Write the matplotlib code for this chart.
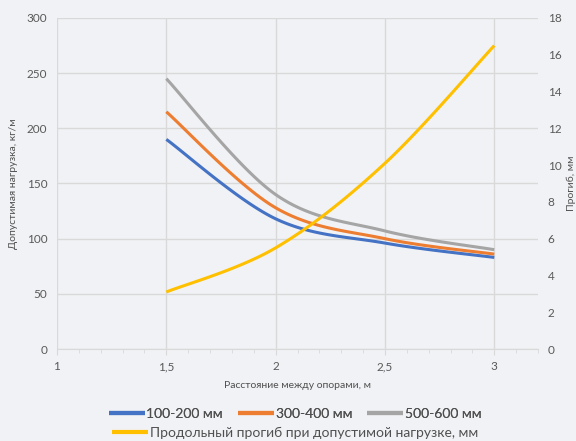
import numpy as np
import matplotlib
matplotlib.use("Agg")
import matplotlib.pyplot as plt
from matplotlib.ticker import MultipleLocator, FuncFormatter

plt.rcParams['font.family'] = ['Lato', 'DejaVu Sans']

span = [1.5, 2.0, 2.5, 3.0]
load_100_200 = [190, 118, 96, 83]
load_300_400 = [215, 128, 100, 86]
load_500_600 = [245, 140, 107, 90]
deflection = [3.1, 5.5, 10.1, 16.5]

labels = ["100-200 мм", "300-400 мм", "500-600 мм",
          "Продольный прогиб при допустимой нагрузке, мм"]
colors = ["#4472C4", "#ED7D31", "#A5A5A5", "#FFC000"]


def smooth(x, y, n=40):
    """Excel-style smoothed line (Catmull-Rom Bezier) through the given points."""
    p = np.column_stack([x, y]).astype(float)
    pts = np.vstack([p[0], p, p[-1]])
    out = []
    t = np.linspace(0, 1, n)[:, None]
    for i in range(1, len(pts) - 2):
        p0, p1, p2, p3 = pts[i - 1], pts[i], pts[i + 1], pts[i + 2]
        c1 = p1 + (p2 - p0) / 6
        c2 = p2 - (p3 - p1) / 6
        seg = ((1 - t) ** 3) * p1 + 3 * ((1 - t) ** 2) * t * c1 + 3 * (1 - t) * t ** 2 * c2 + t ** 3 * p2
        out.append(seg if i == 1 else seg[1:])
    s = np.vstack(out)
    return s[:, 0], s[:, 1]


fig = plt.figure(figsize=(5.76, 4.41), dpi=100)
fig.patch.set_facecolor("#f1f2f5")
ax = fig.add_axes([57 / 576, 1 - 349 / 441, (538 - 57) / 576, (349 - 18) / 441])
ax.set_facecolor("#f1f2f5")
ax2 = ax.twinx()

handles = []
for vals, c, lab in zip([load_100_200, load_300_400, load_500_600], colors[:3], labels[:3]):
    xs, ys = smooth(span, vals)
    h, = ax.plot(xs, ys, color=c, lw=2.2, solid_capstyle='butt', label=lab)
    handles.append(h)
xs, ys = smooth(span, deflection)
h, = ax2.plot(xs, ys, color=colors[3], lw=2.2, solid_capstyle='butt', label=labels[3])
handles.append(h)

ax.set_xlim(1, 3.2)
ax.set_ylim(0, 300)
ax2.set_ylim(0, 18)
ax.xaxis.set_major_locator(MultipleLocator(0.5))
ax.xaxis.set_minor_locator(MultipleLocator(0.1))
ax.yaxis.set_major_locator(MultipleLocator(50))
ax2.yaxis.set_major_locator(MultipleLocator(2))

fmt = FuncFormatter(lambda v, p: ("%g" % v).replace(".", ","))
ax.xaxis.set_major_formatter(fmt)

grid_c = "#d9d9d9"
ax.grid(True, which='major', color=grid_c, lw=1)
ax.set_axisbelow(True)
for sp in ["top", "right", "left"]:
    ax.spines[sp].set_visible(False)
    ax2.spines[sp].set_visible(False)
ax2.spines["bottom"].set_visible(False)
ax.spines["bottom"].set_color(grid_c)

ax.tick_params(axis='y', length=0, labelsize=8.5, labelcolor="#595959", pad=7)
ax2.tick_params(axis='y', length=0, labelsize=8.5, labelcolor="#595959", pad=7)
ax.tick_params(axis='x', which='major', length=4, color=grid_c, labelsize=8.5, labelcolor="#595959", pad=5)
ax.tick_params(axis='x', which='minor', length=3, color=grid_c)

ax.set_xlabel("Расстояние между опорами, м", fontsize=7.5, color="#505050", labelpad=6)
ax.set_ylabel("Допустимая нагрузка, кг/м", fontsize=7.5, color="#505050", labelpad=6)
ax2.set_ylabel("Прогиб, мм", fontsize=7.5, color="#505050", labelpad=4)

leg1 = fig.legend(handles[:3], labels[:3], loc='center', bbox_to_anchor=(295 / 576, 1 - 414 / 441),
                  ncol=3, frameon=False, fontsize=10, handlelength=2.6, handletextpad=0.1,
                  columnspacing=1.1, labelcolor="#505050", borderpad=0, borderaxespad=0)
for l in leg1.get_lines():
    l.set_linewidth(3)
leg2 = fig.legend(handles[3:], labels[3:], loc='center', bbox_to_anchor=(295 / 576, 1 - 433 / 441),
                  frameon=False, fontsize=10, handlelength=2.6, handletextpad=0.1,
                  labelcolor="#505050", borderpad=0, borderaxespad=0)
for l in leg2.get_lines():
    l.set_linewidth(3)
fig.add_artist(leg1)

fig.savefig("out.png", dpi=100, facecolor=fig.get_facecolor())
